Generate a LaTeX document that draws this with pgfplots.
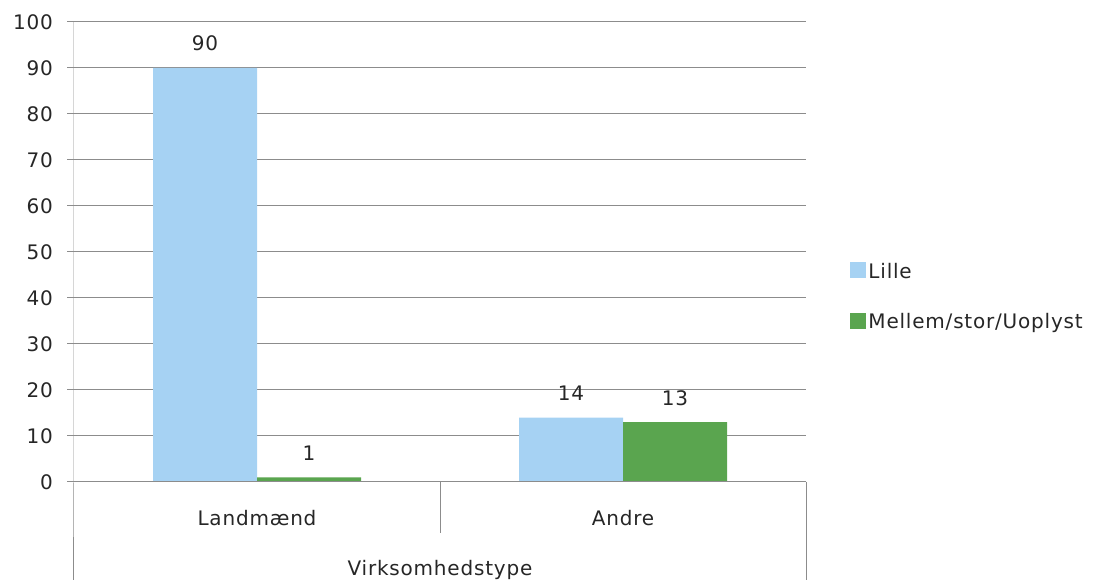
\documentclass[border=0pt]{standalone}
\usepackage{fontspec}
\setmainfont{DejaVu Sans}[LetterSpace=4]
\usepackage{pgfplots}
\pgfplotsset{compat=1.18}
\usetikzlibrary{calc}
\definecolor{lille}{HTML}{A6D2F3}
\definecolor{mellem}{HTML}{5AA54F}
\definecolor{gridc}{HTML}{8C8C8C}
\definecolor{txt}{HTML}{262626}

\pgfplotstableread{
x lille mellem
0 90 1
1 14 13
}\datatable

\begin{document}
\begin{tikzpicture}[font=\fontsize{15}{18}\selectfont, text=txt]
\begin{axis}[
  scale only axis, width=549pt, height=345pt,
  xmin=-0.5, xmax=1.5, ymin=0, ymax=100,
  ytick={0,10,...,100},
  xtick={0,1}, xticklabels={Landmænd,Andre},
  xtick style={draw=none},
  ytick pos=left, xtick pos=bottom,
  xticklabel style={anchor=base, yshift=-27.5pt},
  yticklabel style={xshift=-7.25pt},
  ymajorgrids, grid style={gridc, line width=0.75pt},
  axis line style={draw=none},
  ytick style={gridc, line width=0.75pt},
  tick align=outside, major tick length=5pt,
  ybar=0pt, bar width=78pt,
  nodes near coords,
  nodes near coords style={anchor=south, yshift=9pt, text=txt},
  /pgf/number format/assume math mode=true,
  xlabel={Virksomhedstype},
  xlabel style={at={(rel axis cs:0.5,0)}, anchor=base, yshift=-70pt},
  legend style={draw=none, fill=none, at={(rel axis cs:1.054,0.402)}, anchor=west, row sep=21pt, font=\fontsize{15}{18}\selectfont},
  legend cell align=left,
  legend image code/.code={\fill[#1,draw=none] (0pt,-5pt) rectangle (12pt,7pt);},
  clip=false,
]
\addplot[fill=lille, draw=none] table[x=x, y=lille] {\datatable};
\addplot[fill=mellem, draw=none] table[x=x, y=mellem] {\datatable};
\legend{Lille, Mellem/stor/Uoplyst}
\coordinate (O) at (rel axis cs:0,0);
\draw[gridc, line width=0.75pt] (rel axis cs:0,1) -- (rel axis cs:0,0) -- ++(0pt,-80pt);
\draw[gridc, line width=0.75pt] (rel axis cs:0,0) -- (rel axis cs:1,0);
\draw[gridc, line width=0.75pt] (rel axis cs:0.5,0) -- ++(0pt,-38pt);
\draw[gridc, line width=0.75pt] (rel axis cs:1,0) -- ++(0pt,-80pt);
\end{axis}
\pgfresetboundingbox
\useasboundingbox ($(O)+(-55.5pt,-73.5pt)$) rectangle ($(O)+(771pt,361.5pt)$);
\end{tikzpicture}
\end{document}
